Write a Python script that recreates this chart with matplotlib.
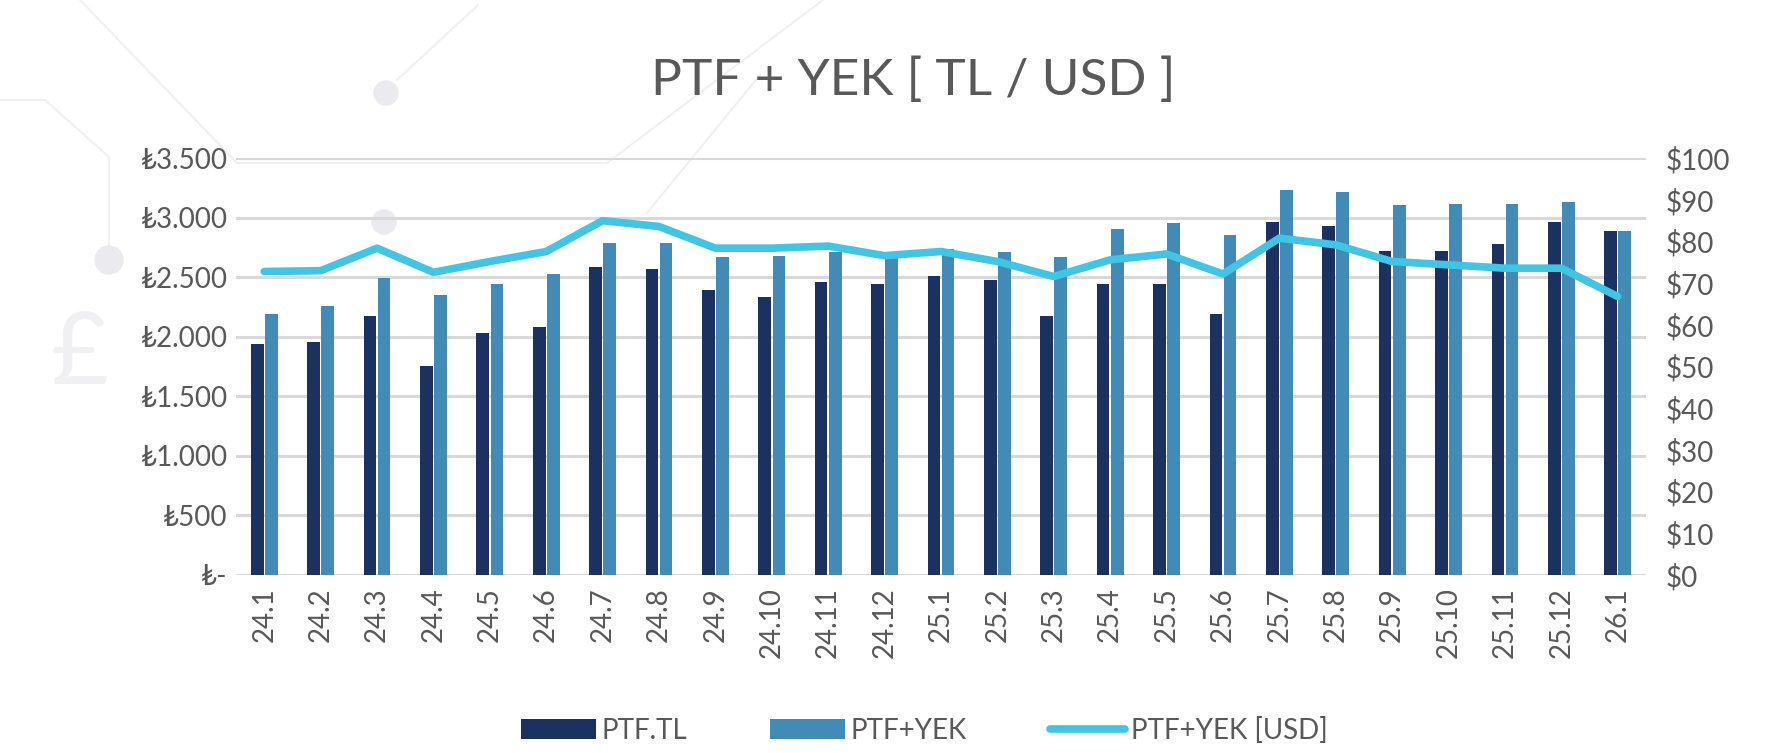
import matplotlib
matplotlib.use("Agg")
import matplotlib.pyplot as plt
from matplotlib.lines import Line2D
from matplotlib.patches import Ellipse

plt.rcParams['font.family'] = ['Lato', 'DejaVu Sans']

# data
months = ["24.1", "24.2", "24.3", "24.4", "24.5", "24.6", "24.7", "24.8", "24.9", "24.10",
          "24.11", "24.12", "25.1", "25.2", "25.3", "25.4", "25.5", "25.6", "25.7", "25.8",
          "25.9", "25.10", "25.11", "25.12", "26.1"]
ptf_tl = [1940, 1957, 2177, 1753, 2035, 2083, 2588, 2569, 2395, 2334,
          2457, 2445, 2507, 2473, 2177, 2445, 2445, 2194, 2962, 2931,
          2724, 2724, 2775, 2962, 2884]
ptf_yek = [2194, 2255, 2493, 2351, 2445, 2523, 2786, 2786, 2666, 2680,
           2716, 2661, 2739, 2708, 2666, 2903, 2959, 2853, 3230, 3216,
           3104, 3118, 3118, 3135, 2884]
ptf_yek_usd = [72.8, 73.0, 78.4, 72.6, 75.2, 77.6, 85.0, 83.6, 78.4, 78.4,
               78.9, 76.6, 77.6, 75.2, 71.6, 75.6, 77.0, 72.2, 80.8, 79.2,
               75.2, 74.4, 73.6, 73.6, 66.8]

tl_ticks = [0, 500, 1000, 1500, 2000, 2500, 3000, 3500]
tl_labels = ["₺-", "₺500", "₺1.000", "₺1.500", "₺2.000", "₺2.500", "₺3.000", "₺3.500"]
usd_ticks = list(range(0, 101, 10))
usd_labels = ["$" + str(v) for v in usd_ticks]

DARK = "#1b3160"
MID = "#418bb6"
CYAN = "#40c5e4"
GREY = "#595959"

W, H = 1791, 753
fig = plt.figure(figsize=(W / 100, H / 100), dpi=100)

# faint circuit-like background decoration (pixel coords -> figure coords)
def px(pts):
    return [p[0] / W for p in pts], [1 - p[1] / H for p in pts]

deco = "#f0f0f3"
for pts in [[(80, 0), (237, 163), (607, 163), (823, 0)],
            [(478, 5), (397, 80)],
            [(0, 100), (45, 100), (109, 157), (109, 260)],
            [(647, 213), (760, 75)]]:
    xs, ys = px(pts)
    fig.add_artist(Line2D(xs, ys, color=deco, lw=1.5, zorder=0))
for cx, cy, r in [(386, 93, 12), (384, 222, 12), (109, 260, 14)]:
    fig.add_artist(Ellipse((cx / W, 1 - cy / H), 2 * r / W, 2 * r / H,
                           transform=fig.transFigure, color="#eaeaef", zorder=0))
fig.text(80 / W, 1 - 355 / H, "£", fontsize=72, color="#f0f0f3", ha="center",
         va="center", zorder=0)

ax = fig.add_axes([0.1318, 0.2364, 0.7872, 0.5536])
ax.patch.set_alpha(0)
x = list(range(len(months)))
w = 0.225
ax.bar([i - 0.125 for i in x], ptf_tl, width=w, color=DARK, label="PTF.TL", zorder=3)
ax.bar([i + 0.125 for i in x], ptf_yek, width=w, color=MID, label="PTF+YEK", zorder=3)
ax.set_ylim(0, 3500)
ax.set_xlim(-0.5, len(months) - 0.5)
ax.set_yticks(tl_ticks)
ax.set_yticklabels(tl_labels)
ax.set_xticks(x)
ax.set_xticklabels(months, rotation=90)
ax.grid(axis="y", color="#d9d9d9", lw=2.2, zorder=0)
ax.set_axisbelow(True)
for s in ax.spines.values():
    s.set_visible(False)
ax.tick_params(axis="both", length=0, labelsize=20, colors=GREY)
ax.tick_params(axis="y", pad=6)
ax.tick_params(axis="x", pad=9)

ax2 = ax.twinx()
ax2.plot(x, ptf_yek_usd, color=CYAN, lw=5.5, label="PTF+YEK [USD]", zorder=4,
         solid_capstyle="round", solid_joinstyle="round")
ax2.set_ylim(0, 100)
ax2.set_yticks(usd_ticks)
ax2.set_yticklabels(usd_labels)
for s in ax2.spines.values():
    s.set_visible(False)
ax2.tick_params(axis="y", length=0, labelsize=20, colors=GREY, pad=14)

fig.text(0.51, 0.893, "PTF + YEK [ TL / USD ]", ha="center", va="center",
         fontsize=37, color=GREY)

h1, l1 = ax.get_legend_handles_labels()
h2, l2 = ax2.get_legend_handles_labels()
leg = fig.legend(h1 + h2, l1 + l2, loc="center", bbox_to_anchor=(0.516, 0.03), ncol=3,
                 frameon=False, fontsize=20, handlelength=2.7, handleheight=0.75,
                 handletextpad=0.2, columnspacing=3.0)
for t in leg.get_texts():
    t.set_color(GREY)

fig.savefig("out.png", dpi=100, facecolor="white")
